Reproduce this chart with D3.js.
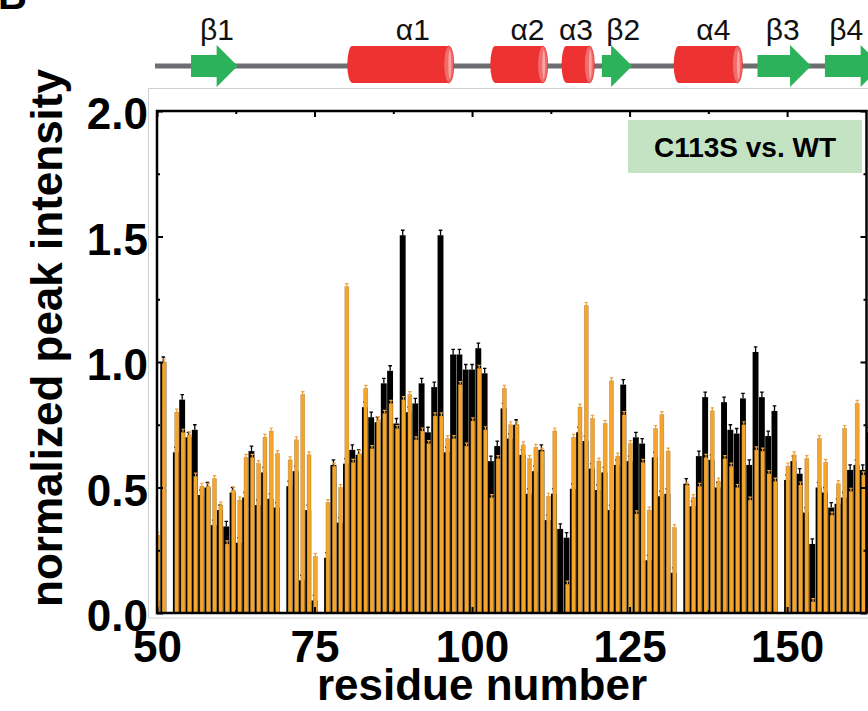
<!DOCTYPE html>
<html><head><meta charset="utf-8">
<script src="https://cdn.jsdelivr.net/npm/d3@7/dist/d3.min.js"></script>
<style>body{margin:0;background:#fff} svg{display:block;font-family:"Liberation Sans",Arial,sans-serif}</style>
</head><body>
<svg id="c" width="868" height="711"></svg>
<script>
// ---------------- DATA ----------------
const residues = [50,51,52,53,54,55,56,57,58,59,60,61,62,63,64,65,66,67,68,69,70,71,72,73,74,75,76,77,78,79,
  80,81,82,83,84,85,86,87,88,89,90,91,92,93,94,95,96,97,98,99,100,101,102,103,104,105,106,107,108,109,
  110,111,112,113,114,115,116,117,118,119,120,121,122,123,124,125,126,127,128,129,130,131,132,133,134,135,136,137,138,139,
  140,141,142,143,144,145,146,147,148,149,150,151,152,153,154,155,156,157,158,159,160,161,162,163];
// C113S (black bars)
const c113s = [0.05,1.00,null,0.64,0.85,0.70,0.73,0.47,0.50,0.35,0.41,0.345,0.48,0.28,0.46,0.645,0.43,0.56,0.455,0.42,
  null,0.505,0.565,0.13,0.41,0.05,null,0.22,0.59,0.36,
  0.595,0.65,0.63,0.82,0.78,0.76,0.915,0.965,0.755,1.505,0.80,0.835,0.915,0.72,0.90,1.505,0.64,1.03,1.03,0.97,
  0.97,1.055,0.955,0.605,0.665,0.815,0.695,0.75,0.63,0.475,
  0.565,0.65,0.37,0.475,0.335,0.30,0.495,0.72,0.685,0.575,0.49,0.56,0.41,0.59,0.91,0.605,0.70,0.675,0.21,0.62,
  0.465,0.475,0.16,null,0.515,0.425,0.625,0.86,0.61,0.50,
  0.84,0.73,0.715,0.855,0.59,1.04,0.86,0.705,0.805,null,0.53,0.605,0.555,0.40,0.275,0.50,0.48,0.42,0.435,0.46,
  0.57,0.59,0.57,0.72];
// WT (orange bars)
const wt = [0.31,1.00,null,0.80,0.72,0.71,0.545,0.505,0.505,0.535,0.43,0.275,0.49,0.45,0.62,0.62,0.595,0.70,0.725,0.635,
  null,0.61,0.69,0.87,0.63,0.225,null,0.44,0.585,0.50,
  1.30,0.60,0.635,0.895,0.655,0.77,0.795,0.835,0.735,0.85,0.87,0.69,0.725,0.675,0.785,0.785,0.695,0.695,0.91,0.665,
  0.765,0.975,0.73,0.46,0.615,0.895,0.75,0.75,0.67,0.615,
  0.66,0.645,0.465,0.725,null,0.115,0.70,0.82,1.225,0.775,0.605,0.755,0.925,0.625,0.79,0.675,0.395,0.60,0.41,0.735,
  0.79,0.645,0.34,null,0.51,0.46,0.505,0.62,0.805,0.525,
  0.615,0.585,0.50,0.75,0.45,0.65,0.645,0.555,0.525,null,0.585,0.63,0.51,0.615,0.045,0.695,0.60,0.39,0.515,0.735,
  0.485,0.835,0.55,0.56];
const errC113S = 0.02;
const errWT = 0.012;

const xTickValues = [50,75,100,125,150];
const xMinorValues = [62.5,87.5,112.5,137.5];
const yTickValues = [0,0.5,1.0,1.5,2.0];
const yMinorValues = [0.25,0.75,1.25,1.75];

// secondary structure (residue ranges)
const ssType    = ["beta","helix","helix","helix","beta","helix","beta","beta"];
const ssLabel   = ["β1","α1","α2","α3","β2","α4","β3","β4"];
const ssStart   = [55.4,80.2,102.9,114.2,120.6,132.0,145.3,156.0];
const ssEnd     = [62.8,97.1,112.0,119.4,125.4,142.9,153.8,165.0];
const ssLabelAt = [59.5,90.6,108.8,116.5,124.0,138.3,149.3,159.4];

const legendText = "C113S vs. WT";
const xTitle = "residue number";
const yTitle = "normalized peak intensity";

// ---------------- CHART ----------------
const svg = d3.select("#c");
const x = d3.scaleLinear().domain([50, 162.6]).range([157, 866.5]);
const y = d3.scaleLinear().domain([0, 2]).range([613, 111]);

const ORANGE = "#F5A52B";
const font = '"Liberation Sans",Arial,sans-serif';

// light outer border (image frame)
svg.append("rect").attr("x",148.5).attr("y",88.5).attr("width",740).attr("height",529.5)
  .attr("fill","none").attr("stroke","#d0d0d0").attr("stroke-width",1);

// panel letter, mostly cropped
svg.append("text").attr("x",-2).attr("y",9).attr("font-size",40).attr("font-weight","bold").text("B");

// secondary structure
const ss = svg.append("g");
ss.append("line").attr("x1",155).attr("x2",868).attr("y1",66).attr("y2",66)
  .attr("stroke","#6D6E71").attr("stroke-width",5);
const ssData = ssType.map((t,i)=>({t, label:ssLabel[i], s:ssStart[i], e:ssEnd[i], l:ssLabelAt[i]}));
ssData.forEach(d=>{
  const x0 = x(d.s), x1 = x(d.e);
  if (d.t === "helix") {
    const cy = 64.5, h = 37, rx = 5;
    ss.append("ellipse").attr("cx",x0+rx).attr("cy",cy).attr("rx",rx).attr("ry",h/2).attr("fill","#EE3131");
    ss.append("rect").attr("x",x0+rx).attr("y",cy-h/2).attr("width",x1-x0-2*rx).attr("height",h).attr("fill","#EE3131");
    ss.append("ellipse").attr("cx",x1-rx).attr("cy",cy).attr("rx",rx).attr("ry",h/2)
      .attr("fill","#F26A6A").attr("stroke","#E23030").attr("stroke-width",0.8);
    ss.append("ellipse").attr("cx",x1-rx+1).attr("cy",cy).attr("rx",1.5).attr("ry",h/2-4).attr("fill","#F7A3A3");
  } else {
    const cy = 66, bh = 11, hh = 21, hl = 21;
    const xh = x1 - hl;
    ss.append("polygon").attr("points",[[x0,cy-bh],[xh,cy-bh],[xh,cy-hh],[x1,cy],[xh,cy+hh],[xh,cy+bh],[x0,cy+bh]].map(p=>p.join(",")).join(" "))
      .attr("fill","#2BB25A");
  }
  ss.append("text").attr("x",x(d.l)).attr("y",40).attr("text-anchor","middle")
    .attr("font-size",30).attr("fill","#111").text(d.label);
});

// bars
const rows = residues.map((r,i)=>({r, b:c113s[i], o:wt[i]}));
svg.append("clipPath").attr("id","clip").append("rect").attr("x",157).attr("y",0).attr("width",800).attr("height",711);
const bars = svg.append("g").attr("clip-path","url(#clip)");
const blk = rows.filter(d=>d.b!=null);
const org = rows.filter(d=>d.o!=null);
bars.selectAll(".bb").data(blk).join("rect").attr("class","bb")
  .attr("x",d=>x(d.r)-3.0).attr("width",5.9)
  .attr("y",d=>y(d.b)).attr("height",d=>y(0)-y(d.b)).attr("fill","#000");
bars.selectAll(".be").data(blk).join("path").attr("class","be")
  .attr("d",d=>`M${x(d.r)},${y(d.b)}V${y(d.b+errC113S)}M${x(d.r)-1.8},${y(d.b+errC113S)}H${x(d.r)+1.8}`)
  .attr("stroke","#000").attr("stroke-width",1.3).attr("fill","none");
bars.selectAll(".ob").data(org).join("rect").attr("class","ob")
  .attr("x",d=>x(d.r)-1.2).attr("width",4.0)
  .attr("y",d=>y(d.o)).attr("height",d=>y(0)-y(d.o)).attr("fill",ORANGE)
  .attr("stroke","rgba(120,85,30,0.45)").attr("stroke-width",0.6);
bars.selectAll(".oe").data(org).join("path").attr("class","oe")
  .attr("d",d=>`M${x(d.r)+0.8},${y(d.o)}V${y(d.o+errWT)}M${x(d.r)-0.9},${y(d.o+errWT)}H${x(d.r)+2.5}`)
  .attr("stroke","#EFA23A").attr("stroke-width",1.2).attr("fill","none");

// axes
function styleAxis(g){
  g.select(".domain").remove();
  g.selectAll(".tick line").attr("stroke","#000").attr("stroke-width",2);
  g.selectAll(".tick text").attr("font-family",font).attr("font-weight","bold").attr("font-size",44).attr("fill","#000");
}
svg.append("g").attr("transform",`translate(0,${y(0)})`)
  .call(d3.axisBottom(x).tickValues(xTickValues).tickSize(-6).tickPadding(18).tickFormat(d3.format("d"))).call(styleAxis);
svg.append("g").attr("transform",`translate(0,${y(0)})`)
  .call(d3.axisBottom(x).tickValues(xMinorValues).tickSize(-3).tickFormat("")).call(styleAxis);
svg.append("g").attr("transform",`translate(0,${y(2)})`)
  .call(d3.axisTop(x).tickValues(xTickValues).tickSize(-6).tickFormat("")).call(styleAxis);
svg.append("g").attr("transform",`translate(0,${y(2)})`)
  .call(d3.axisTop(x).tickValues(xMinorValues).tickSize(-3).tickFormat("")).call(styleAxis);
svg.append("g").attr("transform",`translate(${x(50)},0)`)
  .call(d3.axisLeft(y).tickValues(yTickValues).tickSize(-6).tickPadding(9).tickFormat(d3.format(".1f"))).call(styleAxis)
  .selectAll(".tick text").attr("dy","0.4em");
svg.append("g").attr("transform",`translate(${x(50)},0)`)
  .call(d3.axisLeft(y).tickValues(yMinorValues).tickSize(-3).tickFormat("")).call(styleAxis);
svg.append("g").attr("transform",`translate(${x(162.6)},0)`)
  .call(d3.axisRight(y).tickValues(yTickValues).tickSize(-6).tickFormat("")).call(styleAxis);
svg.append("g").attr("transform",`translate(${x(162.6)},0)`)
  .call(d3.axisRight(y).tickValues(yMinorValues).tickSize(-3).tickFormat("")).call(styleAxis);

// frame
svg.append("rect").attr("x",x(50)).attr("y",y(2)).attr("width",x(162.6)-x(50)).attr("height",y(0)-y(2))
  .attr("fill","none").attr("stroke","#000").attr("stroke-width",2.5);

// legend box
svg.append("rect").attr("x",628).attr("y",120).attr("width",234).attr("height",53).attr("fill","#C3E3C3");
svg.append("text").attr("x",745).attr("y",157).attr("text-anchor","middle")
  .attr("font-size",28).attr("font-weight","bold").text(legendText);

// titles
svg.append("text").attr("x",482).attr("y",700).attr("text-anchor","middle")
  .attr("font-size",44).attr("font-weight","bold").text(xTitle);
svg.append("text").attr("transform","translate(62,338) rotate(-90)").attr("text-anchor","middle")
  .attr("font-size",44).attr("font-weight","bold").text(yTitle);
</script>
</body></html>
